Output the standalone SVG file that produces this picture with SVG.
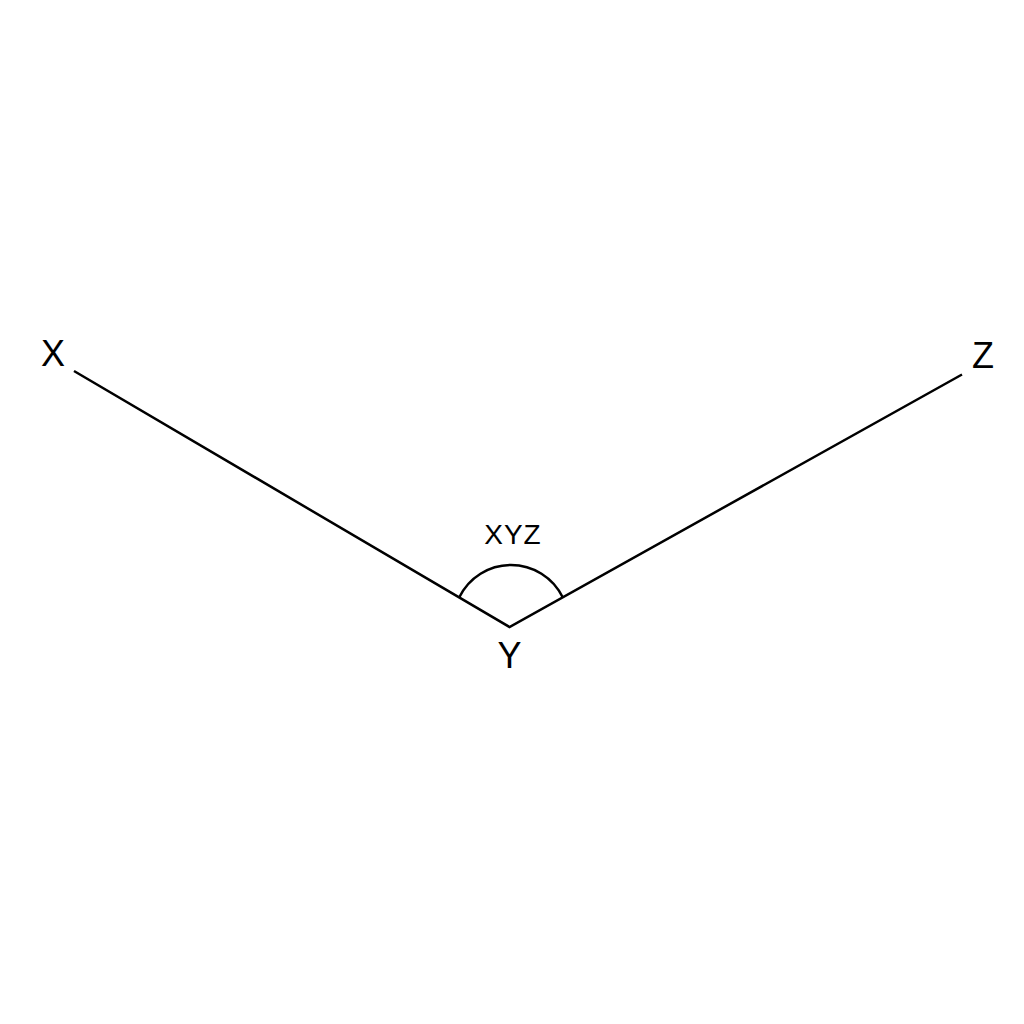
<svg xmlns="http://www.w3.org/2000/svg" width="1024" height="1024" viewBox="0 0 1024 1024">
<style>
.ln{fill:none;stroke:#000;stroke-width:2.5;stroke-linecap:butt;stroke-linejoin:miter}
.lbl{font-family:"Liberation Sans",Arial,sans-serif;fill:#000;text-anchor:middle}
</style>
<rect width="1024" height="1024" fill="#fff"/>
<g id="connectors">
<polyline class="ln" points="74,371 509.5,627 962,374.5"/>
<path class="ln" d="M459.3,597.3 A57.5,57.5 0 0 1 562.7,597.3"/>
</g>
<g id="node-X"><text class="lbl" x="53" y="365.5" font-size="36">X</text></g>
<g id="node-Z"><text class="lbl" x="983" y="367.5" font-size="36">Z</text></g>
<g id="node-Y"><text class="lbl" x="509.5" y="668" font-size="36">Y</text></g>
<g id="angle-label"><text class="lbl" x="513" y="544" font-size="28" letter-spacing="1">XYZ</text></g>
</svg>
